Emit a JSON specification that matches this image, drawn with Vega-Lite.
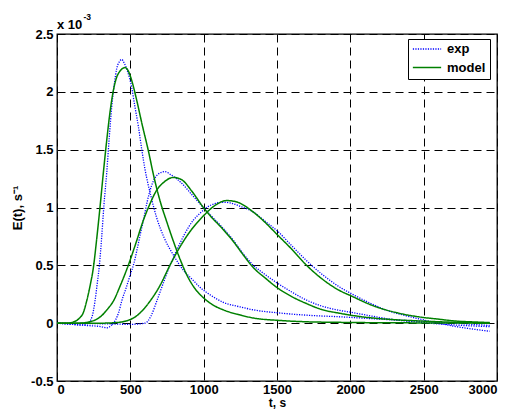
{
  "$schema": "https://vega.github.io/schema/vega-lite/v6.json",
  "width": 440,
  "height": 347,
  "autosize": {"type": "none"},
  "padding": {"left": 57, "top": 34, "right": 14, "bottom": 29},
  "background": "white",
  "config": {
    "font": "Liberation Sans",
    "view": {"stroke": "black", "strokeWidth": 1.3},
    "axis": {
      "domain": false,
      "ticks": false,
      "grid": true,
      "gridColor": "black",
      "gridDash": [8, 5],
      "gridWidth": 1,
      "gridOpacity": 1,
      "labelFont": "Liberation Sans",
      "labelFontSize": 13,
      "labelFontWeight": "bold",
      "labelColor": "black",
      "labelPadding": 4,
      "titleFont": "Liberation Sans",
      "titleFontSize": 13,
      "titleFontWeight": "bold",
      "titleColor": "black"
    },
    "legend": {
      "orient": "none",
      "legendX": 351,
      "legendY": 5,
      "title": null,
      "strokeColor": "black",
      "fillColor": "white",
      "padding": 4,
      "symbolType": "stroke",
      "symbolSize": 800,
      "symbolStrokeWidth": 1.5,
      "clipHeight": 12,
      "rowPadding": 5.6,
      "labelFont": "Liberation Sans",
      "labelFontSize": 13,
      "labelFontWeight": "bold",
      "labelColor": "black",
      "labelOffset": 5
    }
  },
  "datasets": {
    "curves": [
      {"id": "exp1", "type": "exp", "t": 0, "E": 0},
      {"id": "exp1", "type": "exp", "t": 100, "E": -0.01},
      {"id": "exp1", "type": "exp", "t": 180, "E": -0.015},
      {"id": "exp1", "type": "exp", "t": 212, "E": 0},
      {"id": "exp1", "type": "exp", "t": 240, "E": 0.06},
      {"id": "exp1", "type": "exp", "t": 259, "E": 0.19},
      {"id": "exp1", "type": "exp", "t": 275, "E": 0.35},
      {"id": "exp1", "type": "exp", "t": 289, "E": 0.5},
      {"id": "exp1", "type": "exp", "t": 305, "E": 0.75},
      {"id": "exp1", "type": "exp", "t": 320, "E": 1.02},
      {"id": "exp1", "type": "exp", "t": 339, "E": 1.3},
      {"id": "exp1", "type": "exp", "t": 356, "E": 1.6},
      {"id": "exp1", "type": "exp", "t": 373, "E": 1.87},
      {"id": "exp1", "type": "exp", "t": 390, "E": 2.06},
      {"id": "exp1", "type": "exp", "t": 407, "E": 2.2},
      {"id": "exp1", "type": "exp", "t": 425, "E": 2.26},
      {"id": "exp1", "type": "exp", "t": 441, "E": 2.28},
      {"id": "exp1", "type": "exp", "t": 458, "E": 2.25},
      {"id": "exp1", "type": "exp", "t": 480, "E": 2.18},
      {"id": "exp1", "type": "exp", "t": 509, "E": 2.04},
      {"id": "exp1", "type": "exp", "t": 530, "E": 1.88},
      {"id": "exp1", "type": "exp", "t": 555, "E": 1.7},
      {"id": "exp1", "type": "exp", "t": 578, "E": 1.5},
      {"id": "exp1", "type": "exp", "t": 600, "E": 1.33},
      {"id": "exp1", "type": "exp", "t": 640, "E": 1.1},
      {"id": "exp1", "type": "exp", "t": 680, "E": 0.91},
      {"id": "exp1", "type": "exp", "t": 730, "E": 0.74},
      {"id": "exp1", "type": "exp", "t": 793, "E": 0.59},
      {"id": "exp1", "type": "exp", "t": 860, "E": 0.46},
      {"id": "exp1", "type": "exp", "t": 929, "E": 0.37},
      {"id": "exp1", "type": "exp", "t": 975, "E": 0.31},
      {"id": "exp1", "type": "exp", "t": 1050, "E": 0.24},
      {"id": "exp1", "type": "exp", "t": 1134, "E": 0.18},
      {"id": "exp1", "type": "exp", "t": 1250, "E": 0.14},
      {"id": "exp1", "type": "exp", "t": 1362, "E": 0.11},
      {"id": "exp1", "type": "exp", "t": 1500, "E": 0.09},
      {"id": "exp1", "type": "exp", "t": 1725, "E": 0.067},
      {"id": "exp1", "type": "exp", "t": 1930, "E": 0.055},
      {"id": "exp1", "type": "exp", "t": 2200, "E": 0.035},
      {"id": "exp1", "type": "exp", "t": 2500, "E": 0.015},
      {"id": "exp1", "type": "exp", "t": 2700, "E": 0.0},
      {"id": "exp1", "type": "exp", "t": 2950, "E": -0.02},

      {"id": "exp2", "type": "exp", "t": 0, "E": 0},
      {"id": "exp2", "type": "exp", "t": 100, "E": -0.01},
      {"id": "exp2", "type": "exp", "t": 200, "E": -0.02},
      {"id": "exp2", "type": "exp", "t": 300, "E": -0.03},
      {"id": "exp2", "type": "exp", "t": 339, "E": -0.04},
      {"id": "exp2", "type": "exp", "t": 370, "E": -0.02},
      {"id": "exp2", "type": "exp", "t": 400, "E": 0.03},
      {"id": "exp2", "type": "exp", "t": 420, "E": 0.09},
      {"id": "exp2", "type": "exp", "t": 441, "E": 0.19},
      {"id": "exp2", "type": "exp", "t": 470, "E": 0.3},
      {"id": "exp2", "type": "exp", "t": 500, "E": 0.42},
      {"id": "exp2", "type": "exp", "t": 525, "E": 0.52},
      {"id": "exp2", "type": "exp", "t": 550, "E": 0.66},
      {"id": "exp2", "type": "exp", "t": 570, "E": 0.78},
      {"id": "exp2", "type": "exp", "t": 589, "E": 0.89},
      {"id": "exp2", "type": "exp", "t": 615, "E": 1.05},
      {"id": "exp2", "type": "exp", "t": 645, "E": 1.19},
      {"id": "exp2", "type": "exp", "t": 670, "E": 1.26},
      {"id": "exp2", "type": "exp", "t": 691, "E": 1.29},
      {"id": "exp2", "type": "exp", "t": 736, "E": 1.31},
      {"id": "exp2", "type": "exp", "t": 780, "E": 1.28},
      {"id": "exp2", "type": "exp", "t": 850, "E": 1.21},
      {"id": "exp2", "type": "exp", "t": 920, "E": 1.11},
      {"id": "exp2", "type": "exp", "t": 998, "E": 1.0},
      {"id": "exp2", "type": "exp", "t": 1050, "E": 0.93},
      {"id": "exp2", "type": "exp", "t": 1111, "E": 0.85},
      {"id": "exp2", "type": "exp", "t": 1200, "E": 0.72},
      {"id": "exp2", "type": "exp", "t": 1270, "E": 0.6},
      {"id": "exp2", "type": "exp", "t": 1339, "E": 0.5},
      {"id": "exp2", "type": "exp", "t": 1420, "E": 0.42},
      {"id": "exp2", "type": "exp", "t": 1498, "E": 0.35},
      {"id": "exp2", "type": "exp", "t": 1600, "E": 0.27},
      {"id": "exp2", "type": "exp", "t": 1700, "E": 0.2},
      {"id": "exp2", "type": "exp", "t": 1800, "E": 0.15},
      {"id": "exp2", "type": "exp", "t": 1930, "E": 0.11},
      {"id": "exp2", "type": "exp", "t": 2000, "E": 0.095},
      {"id": "exp2", "type": "exp", "t": 2150, "E": 0.06},
      {"id": "exp2", "type": "exp", "t": 2300, "E": 0.03},
      {"id": "exp2", "type": "exp", "t": 2493, "E": 0.005},
      {"id": "exp2", "type": "exp", "t": 2700, "E": -0.015},
      {"id": "exp2", "type": "exp", "t": 2950, "E": -0.03},

      {"id": "exp3", "type": "exp", "t": 0, "E": 0},
      {"id": "exp3", "type": "exp", "t": 300, "E": -0.005},
      {"id": "exp3", "type": "exp", "t": 500, "E": -0.01},
      {"id": "exp3", "type": "exp", "t": 600, "E": 0.0},
      {"id": "exp3", "type": "exp", "t": 640, "E": 0.06},
      {"id": "exp3", "type": "exp", "t": 680, "E": 0.19},
      {"id": "exp3", "type": "exp", "t": 720, "E": 0.33},
      {"id": "exp3", "type": "exp", "t": 770, "E": 0.5},
      {"id": "exp3", "type": "exp", "t": 816, "E": 0.63},
      {"id": "exp3", "type": "exp", "t": 870, "E": 0.77},
      {"id": "exp3", "type": "exp", "t": 929, "E": 0.89},
      {"id": "exp3", "type": "exp", "t": 975, "E": 0.95},
      {"id": "exp3", "type": "exp", "t": 1020, "E": 1.0},
      {"id": "exp3", "type": "exp", "t": 1080, "E": 1.035},
      {"id": "exp3", "type": "exp", "t": 1134, "E": 1.045},
      {"id": "exp3", "type": "exp", "t": 1180, "E": 1.04},
      {"id": "exp3", "type": "exp", "t": 1250, "E": 1.01},
      {"id": "exp3", "type": "exp", "t": 1339, "E": 0.96},
      {"id": "exp3", "type": "exp", "t": 1420, "E": 0.88},
      {"id": "exp3", "type": "exp", "t": 1500, "E": 0.8},
      {"id": "exp3", "type": "exp", "t": 1600, "E": 0.67},
      {"id": "exp3", "type": "exp", "t": 1702, "E": 0.54},
      {"id": "exp3", "type": "exp", "t": 1800, "E": 0.43},
      {"id": "exp3", "type": "exp", "t": 1930, "E": 0.31},
      {"id": "exp3", "type": "exp", "t": 2000, "E": 0.26},
      {"id": "exp3", "type": "exp", "t": 2157, "E": 0.16},
      {"id": "exp3", "type": "exp", "t": 2250, "E": 0.11},
      {"id": "exp3", "type": "exp", "t": 2361, "E": 0.07},
      {"id": "exp3", "type": "exp", "t": 2493, "E": 0.03},
      {"id": "exp3", "type": "exp", "t": 2600, "E": 0.0},
      {"id": "exp3", "type": "exp", "t": 2700, "E": -0.025},
      {"id": "exp3", "type": "exp", "t": 2800, "E": -0.045},
      {"id": "exp3", "type": "exp", "t": 2950, "E": -0.07},

      {"id": "model1", "type": "model", "t": 0, "E": 0},
      {"id": "model1", "type": "model", "t": 80, "E": 0},
      {"id": "model1", "type": "model", "t": 111, "E": 0.01},
      {"id": "model1", "type": "model", "t": 150, "E": 0.04},
      {"id": "model1", "type": "model", "t": 179, "E": 0.09},
      {"id": "model1", "type": "model", "t": 202, "E": 0.19},
      {"id": "model1", "type": "model", "t": 225, "E": 0.32},
      {"id": "model1", "type": "model", "t": 248, "E": 0.48},
      {"id": "model1", "type": "model", "t": 270, "E": 0.72},
      {"id": "model1", "type": "model", "t": 293, "E": 1.0},
      {"id": "model1", "type": "model", "t": 316, "E": 1.3},
      {"id": "model1", "type": "model", "t": 339, "E": 1.58},
      {"id": "model1", "type": "model", "t": 361, "E": 1.82},
      {"id": "model1", "type": "model", "t": 384, "E": 2.01},
      {"id": "model1", "type": "model", "t": 408, "E": 2.13},
      {"id": "model1", "type": "model", "t": 430, "E": 2.18},
      {"id": "model1", "type": "model", "t": 464, "E": 2.21},
      {"id": "model1", "type": "model", "t": 490, "E": 2.17},
      {"id": "model1", "type": "model", "t": 509, "E": 2.1},
      {"id": "model1", "type": "model", "t": 543, "E": 1.93},
      {"id": "model1", "type": "model", "t": 580, "E": 1.72},
      {"id": "model1", "type": "model", "t": 623, "E": 1.49},
      {"id": "model1", "type": "model", "t": 660, "E": 1.27},
      {"id": "model1", "type": "model", "t": 702, "E": 1.06},
      {"id": "model1", "type": "model", "t": 750, "E": 0.87},
      {"id": "model1", "type": "model", "t": 793, "E": 0.71},
      {"id": "model1", "type": "model", "t": 840, "E": 0.55},
      {"id": "model1", "type": "model", "t": 884, "E": 0.42},
      {"id": "model1", "type": "model", "t": 940, "E": 0.3},
      {"id": "model1", "type": "model", "t": 998, "E": 0.22},
      {"id": "model1", "type": "model", "t": 1060, "E": 0.16},
      {"id": "model1", "type": "model", "t": 1134, "E": 0.115},
      {"id": "model1", "type": "model", "t": 1250, "E": 0.07},
      {"id": "model1", "type": "model", "t": 1362, "E": 0.04},
      {"id": "model1", "type": "model", "t": 1500, "E": 0.025},
      {"id": "model1", "type": "model", "t": 1700, "E": 0.012},
      {"id": "model1", "type": "model", "t": 2000, "E": 0.006},
      {"id": "model1", "type": "model", "t": 2500, "E": 0.002},
      {"id": "model1", "type": "model", "t": 2950, "E": 0.0},

      {"id": "model2", "type": "model", "t": 0, "E": 0},
      {"id": "model2", "type": "model", "t": 150, "E": 0},
      {"id": "model2", "type": "model", "t": 245, "E": 0.02},
      {"id": "model2", "type": "model", "t": 300, "E": 0.06},
      {"id": "model2", "type": "model", "t": 350, "E": 0.13},
      {"id": "model2", "type": "model", "t": 384, "E": 0.19},
      {"id": "model2", "type": "model", "t": 430, "E": 0.32},
      {"id": "model2", "type": "model", "t": 486, "E": 0.5},
      {"id": "model2", "type": "model", "t": 540, "E": 0.7},
      {"id": "model2", "type": "model", "t": 589, "E": 0.89},
      {"id": "model2", "type": "model", "t": 630, "E": 1.02},
      {"id": "model2", "type": "model", "t": 680, "E": 1.15},
      {"id": "model2", "type": "model", "t": 730, "E": 1.22},
      {"id": "model2", "type": "model", "t": 793, "E": 1.26},
      {"id": "model2", "type": "model", "t": 850, "E": 1.24},
      {"id": "model2", "type": "model", "t": 920, "E": 1.14},
      {"id": "model2", "type": "model", "t": 998, "E": 1.0},
      {"id": "model2", "type": "model", "t": 1050, "E": 0.92},
      {"id": "model2", "type": "model", "t": 1111, "E": 0.84},
      {"id": "model2", "type": "model", "t": 1200, "E": 0.71},
      {"id": "model2", "type": "model", "t": 1270, "E": 0.59},
      {"id": "model2", "type": "model", "t": 1339, "E": 0.48},
      {"id": "model2", "type": "model", "t": 1420, "E": 0.39},
      {"id": "model2", "type": "model", "t": 1498, "E": 0.31},
      {"id": "model2", "type": "model", "t": 1600, "E": 0.23},
      {"id": "model2", "type": "model", "t": 1700, "E": 0.17},
      {"id": "model2", "type": "model", "t": 1800, "E": 0.12},
      {"id": "model2", "type": "model", "t": 1930, "E": 0.085},
      {"id": "model2", "type": "model", "t": 1998, "E": 0.07},
      {"id": "model2", "type": "model", "t": 2150, "E": 0.045},
      {"id": "model2", "type": "model", "t": 2300, "E": 0.03},
      {"id": "model2", "type": "model", "t": 2493, "E": 0.018},
      {"id": "model2", "type": "model", "t": 2700, "E": 0.008},
      {"id": "model2", "type": "model", "t": 2950, "E": 0.003},

      {"id": "model3", "type": "model", "t": 0, "E": 0},
      {"id": "model3", "type": "model", "t": 300, "E": 0},
      {"id": "model3", "type": "model", "t": 400, "E": 0.005},
      {"id": "model3", "type": "model", "t": 475, "E": 0.02},
      {"id": "model3", "type": "model", "t": 550, "E": 0.07},
      {"id": "model3", "type": "model", "t": 634, "E": 0.19},
      {"id": "model3", "type": "model", "t": 700, "E": 0.32},
      {"id": "model3", "type": "model", "t": 770, "E": 0.5},
      {"id": "model3", "type": "model", "t": 825, "E": 0.63},
      {"id": "model3", "type": "model", "t": 900, "E": 0.78},
      {"id": "model3", "type": "model", "t": 1000, "E": 0.93},
      {"id": "model3", "type": "model", "t": 1080, "E": 1.02},
      {"id": "model3", "type": "model", "t": 1157, "E": 1.06},
      {"id": "model3", "type": "model", "t": 1220, "E": 1.05},
      {"id": "model3", "type": "model", "t": 1339, "E": 0.96},
      {"id": "model3", "type": "model", "t": 1420, "E": 0.87},
      {"id": "model3", "type": "model", "t": 1498, "E": 0.77},
      {"id": "model3", "type": "model", "t": 1600, "E": 0.64},
      {"id": "model3", "type": "model", "t": 1702, "E": 0.5},
      {"id": "model3", "type": "model", "t": 1800, "E": 0.39},
      {"id": "model3", "type": "model", "t": 1930, "E": 0.28},
      {"id": "model3", "type": "model", "t": 1998, "E": 0.24},
      {"id": "model3", "type": "model", "t": 2157, "E": 0.15},
      {"id": "model3", "type": "model", "t": 2361, "E": 0.078},
      {"id": "model3", "type": "model", "t": 2493, "E": 0.05},
      {"id": "model3", "type": "model", "t": 2600, "E": 0.035},
      {"id": "model3", "type": "model", "t": 2702, "E": 0.02},
      {"id": "model3", "type": "model", "t": 2850, "E": 0.01},
      {"id": "model3", "type": "model", "t": 2950, "E": 0.005}
    ]
  },
  "layer": [
    {
      "data": {"name": "curves"},
      "transform": [{"filter": "datum.type === 'exp'"}],
      "mark": {"type": "line", "interpolate": "monotone", "strokeWidth": 1.3},
      "encoding": {
        "x": {"field": "t", "type": "quantitative", "scale": {"domain": [0, 3000], "nice": false},
              "axis": {"values": [0, 500, 1000, 1500, 2000, 2500, 3000], "title": "t, s", "labelExpr": "toString(datum.value)", "labelPadding": 2, "titlePadding": 1, "titleFontSize": 12}},
        "y": {"field": "E", "type": "quantitative", "scale": {"domain": [-0.5, 2.5], "nice": false},
              "axis": {"values": [-0.5, 0, 0.5, 1, 1.5, 2, 2.5], "title": "E(t), s⁻¹", "labelExpr": "toString(datum.value)", "titlePadding": 6}},
        "detail": {"field": "id"},
        "color": {"field": "type", "type": "nominal", "scale": {"domain": ["exp", "model"], "range": ["#0000ff", "#008000"]}},
        "strokeDash": {"field": "type", "type": "nominal", "scale": {"domain": ["exp", "model"], "range": [[1.2, 1.3], [1, 0]]}}
      }
    },
    {
      "data": {"name": "curves"},
      "transform": [{"filter": "datum.type === 'model'"}],
      "mark": {"type": "line", "interpolate": "monotone", "strokeWidth": 1.5},
      "encoding": {
        "x": {"field": "t", "type": "quantitative"},
        "y": {"field": "E", "type": "quantitative"},
        "detail": {"field": "id"},
        "color": {"field": "type", "type": "nominal"},
        "strokeDash": {"field": "type", "type": "nominal"}
      }
    },
    {
      "data": {"values": [{"t": 0, "E": 2.5}]},
      "mark": {"type": "text", "text": "x 10", "align": "left", "baseline": "alphabetic", "dx": 0, "dy": -5, "fontSize": 13, "fontWeight": "bold", "font": "Liberation Sans", "color": "black"},
      "encoding": {"x": {"field": "t", "type": "quantitative"}, "y": {"field": "E", "type": "quantitative"}}
    },
    {
      "data": {"values": [{"t": 0, "E": 2.5}]},
      "mark": {"type": "text", "text": "-3", "align": "left", "baseline": "alphabetic", "dx": 26.5, "dy": -14.5, "fontSize": 8.5, "fontWeight": "bold", "font": "Liberation Sans", "color": "black"},
      "encoding": {"x": {"field": "t", "type": "quantitative"}, "y": {"field": "E", "type": "quantitative"}}
    }
  ]
}
